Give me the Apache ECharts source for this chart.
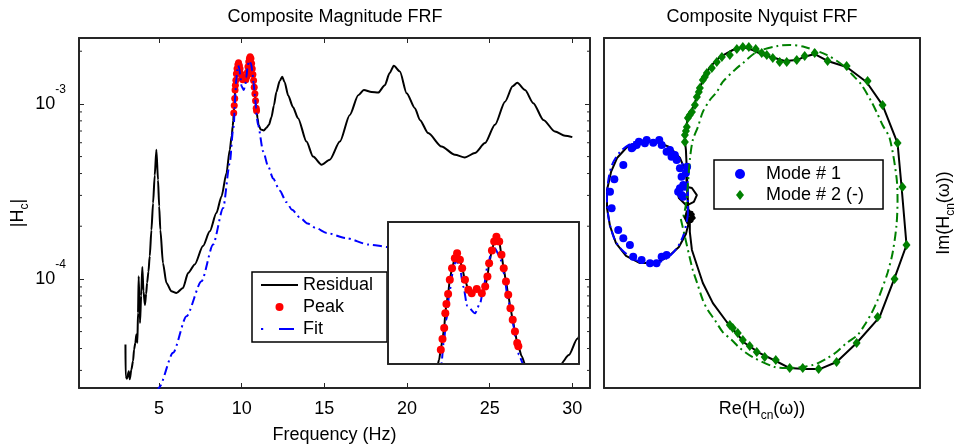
<!DOCTYPE html>
<html><head><meta charset="utf-8">
<script src="https://cdn.jsdelivr.net/npm/echarts@6/dist/echarts.min.js"></script>
<style>html,body{margin:0;padding:0;background:#fff}#c{width:961px;height:448px}</style>
</head><body><div id="c"></div>
<script>
const FONT = '"Liberation Sans", Arial, Helvetica, sans-serif';
const AX = '#262626';
const FS = 18;

// ---- Magnitude FRF data (Hz, |Hc|) ----
const resLowFreq = [2.97,2.98,3.06,3.17,3.23,3.33,3.43,3.49,3.57,3.63,3.69,3.73,3.77,3.85,3.92,3.99,4.06,4.15,4.22,4.28,4.36,4.44,4.54,4.64,4.74,4.84,4.94,5.01,5.08,5.24,5.45,5.75,6.05,6.45,6.76,7.16,7.66,8.07,8.47,8.78,9.08,9.28,9.40,9.46,9.49];
const resLowMag = [4.22e-5,2.78e-5,2.69e-5,2.97e-5,2.67e-5,3.04e-5,3.39e-5,3.95e-5,4.32e-5,4.81e-5,4.32e-5,6.4e-5,1.035e-4,5.6e-5,8.0e-5,1.17e-4,8.5e-5,7.1e-5,8.2e-5,9.5e-5,1.1e-4,1.35e-4,1.9e-4,2.71e-4,3.9e-4,5.47e-4,3.68e-4,2.6e-4,1.91e-4,1.23e-4,9.48e-5,8.5e-5,8.3e-5,8.88e-5,1.08e-4,1.21e-4,1.54e-4,1.87e-4,2.38e-4,2.96e-4,4.02e-4,5.47e-4,6.6e-4,7.5e-4,8.0e-4];
const peakFreq = [9.52,9.55,9.58,9.60,9.62,9.65,9.68,9.72,9.77,9.81,9.86,9.90,9.95,10.01,10.07,10.16,10.25,10.31,10.35,10.38,10.43,10.47,10.51,10.56,10.60,10.64,10.68,10.72,10.76,10.80,10.84,10.88,10.90];
const peakMag = [8.86e-4,9.78e-4,1.072e-3,1.2e-3,1.28e-3,1.365e-3,1.488e-3,1.588e-3,1.674e-3,1.717e-3,1.66e-3,1.588e-3,1.488e-3,1.402e-3,1.373e-3,1.408e-3,1.373e-3,1.43e-3,1.516e-3,1.63e-3,1.74e-3,1.817e-3,1.86e-3,1.817e-3,1.703e-3,1.588e-3,1.473e-3,1.359e-3,1.244e-3,1.144e-3,1.043e-3,9.43e-4,9.15e-4];
const resHighFreq = [10.96,11.02,11.15,11.34,11.5,11.65,11.8,11.95,12.1,12.3,12.45,12.6,12.81,13.1,13.41,13.92,14.32,14.83,15.33,15.94,16.54,17.05,17.39,17.86,18.26,18.66,18.95,19.2,19.57,19.98,20.48,20.78,21.28,22.09,22.9,23.5,24.11,24.72,25.32,25.93,26.39,26.67,27.14,27.64,28.25,28.95,29.56,30.0];
const resHighMag = [8.3e-4,7.6e-4,7.15e-4,7.05e-4,7.3e-4,7.6e-4,8.4e-4,9.8e-4,1.17e-3,1.35e-3,1.43e-3,1.33e-3,1.12e-3,9.6e-4,8.29e-4,6.09e-4,5.0e-4,4.49e-4,4.8e-4,6.09e-4,8.65e-4,1.12e-3,1.2e-3,1.17e-3,1.16e-3,1.28e-3,1.5e-3,1.65e-3,1.53e-3,1.15e-3,9.45e-4,8.1e-4,6.81e-4,5.71e-4,5.12e-4,4.94e-4,5.24e-4,5.97e-4,7.59e-4,1.03e-3,1.26e-3,1.32e-3,1.2e-3,1.01e-3,8.1e-4,6.95e-4,6.57e-4,6.46e-4];
const fitFreq = [4.9,5.0,5.85,6.66,7.57,8.27,8.88,9.28,9.48,9.53,9.57,9.62,9.68,9.74,9.79,9.86,9.92,9.99,10.13,10.22,10.28,10.35,10.43,10.48,10.57,10.64,10.72,10.80,10.87,10.91,10.99,11.3,11.6,11.9,12.3,12.7,13.05,13.5,14.0,14.5,15.15,16.3,17.7,18.9,20,22,25,30];
const fitMag = [2.25e-5,2.4e-5,3.78e-5,6.12e-5,9.69e-5,1.57e-4,2.54e-4,4.59e-4,7.11e-4,7.63e-4,9.43e-4,1.144e-3,1.402e-3,1.574e-3,1.66e-3,1.588e-3,1.43e-3,1.264e-3,1.2e-3,1.287e-3,1.416e-3,1.602e-3,1.746e-3,1.76e-3,1.688e-3,1.545e-3,1.316e-3,1.115e-3,9.43e-4,8.43e-4,7.59e-4,5.35e-4,4.4e-4,3.75e-4,3.2e-4,2.75e-4,2.48e-4,2.25e-4,2.07e-4,1.95e-4,1.83e-4,1.71e-4,1.57e-4,1.52e-4,1.47e-4,1.4e-4,1.34e-4,1.28e-4];
const xTickLabels = [5,10,15,20,25,30];
const yDecades = [-5,-4,-3];

// ---- Nyquist data (Re, Im, x1e-3) ----
const measRe = [0.003,0.023,0.010,-0.023,0.030,0.017,-0.023,-0.003,0.037,-0.010,-0.037,0.000,0.027,0.020,-0.017,-0.030,-0.013,0.013,0.000,0.020,0.027,0.013,-0.013,-0.020,0.000,0.023,-0.023,-0.070,-0.083,-0.043,0.017,0.050,0.030,-0.010,-0.017,-0.023,-0.063,-0.130,-0.217,-0.317,-0.410,-0.483,-0.523,-0.550,-0.550,-0.530,-0.490,-0.423,-0.330,-0.230,-0.143,-0.070,-0.023,-0.003,-0.010,-0.017,-0.023,-0.030,-0.023,-0.010,0.017,0.037,0.057,0.090,0.137,0.203,0.290,0.357,0.423,0.490,0.570,0.637,0.717,0.763,0.837,0.923,1.050,1.183,1.290,1.390,1.417,1.450,1.370,1.270,1.117,0.983,0.870,0.770,0.670,0.577,0.470,0.370,0.250,0.157,0.090,0.050,0.017,0.003,0.003];
const measIm = [-0.013,-0.027,0.013,0.020,0.007,-0.047,-0.040,0.033,-0.020,-0.060,-0.007,-0.040,-0.013,0.020,0.027,-0.020,-0.053,-0.033,-0.020,-0.030,-0.010,0.010,0.000,-0.027,-0.047,-0.040,0.067,0.113,0.167,0.193,0.180,0.133,0.087,0.067,0.200,0.287,0.380,0.453,0.487,0.493,0.460,0.380,0.287,0.167,0.047,-0.073,-0.187,-0.273,-0.320,-0.320,-0.280,-0.213,-0.127,-0.047,0.100,0.300,0.433,0.500,0.580,0.647,0.700,0.747,0.820,0.900,0.987,1.053,1.100,1.120,1.100,1.067,1.047,1.027,1.033,1.053,1.073,1.027,0.987,0.887,0.733,0.480,0.187,-0.200,-0.420,-0.680,-0.853,-0.980,-1.027,-1.027,-1.020,-0.973,-0.920,-0.853,-0.713,-0.587,-0.453,-0.333,-0.233,-0.113,-0.020];
const mode1Re = [-0.530,-0.519,-0.501,-0.475,-0.441,-0.441,-0.397,-0.385,-0.375,-0.352,-0.319,-0.297,-0.263,-0.241,-0.219,-0.201,-0.185,-0.185,-0.152,-0.152,-0.119,-0.085,-0.063,-0.052,-0.041,-0.063,-0.075,-0.052,-0.030,-0.015,-0.023,-0.041,-0.337,-0.285,-0.377,-0.130,-0.097];
const mode1Im = [0.155,0.045,0.238,-0.100,0.333,-0.155,-0.200,0.445,-0.278,0.467,-0.300,0.478,-0.322,0.482,-0.322,0.500,-0.278,0.467,-0.267,0.422,0.389,0.367,0.311,0.255,0.200,0.178,0.155,0.133,0.189,0.322,0.280,0.122,0.489,0.500,0.453,0.433,0.400];
const fit1Re = [-0.010,-0.010,-0.023,-0.077,-0.170,-0.277,-0.383,-0.463,-0.517,-0.543,-0.550,-0.537,-0.503,-0.450,-0.357,-0.250,-0.157,-0.083,-0.037,-0.010];
const fit1Im = [0.000,0.167,0.287,0.387,0.460,0.500,0.480,0.420,0.333,0.220,0.100,-0.033,-0.153,-0.233,-0.300,-0.327,-0.293,-0.220,-0.127,0.000];
const mode2Re = [-0.030,-0.030,-0.017,-0.010,0.017,0.037,0.050,0.070,0.090,0.117,0.150,0.183,0.217,0.270,0.317,0.357,0.397,0.443,0.483,0.517,0.557,0.603,0.650,0.717,0.770,0.837,0.923,1.050,1.190,1.290,1.390,1.423,1.450,1.370,1.257,1.117,0.983,0.863,0.757,0.670,0.577,0.503,0.450,0.403,0.357,0.323,0.290,0.270,-0.023,0.003,0.063,0.103];
const mode2Im = [0.487,0.533,0.587,0.647,0.687,0.733,0.787,0.847,0.900,0.947,0.980,1.020,1.053,1.067,1.107,1.120,1.120,1.107,1.080,1.067,1.047,1.020,1.020,1.033,1.060,1.080,1.027,0.993,0.893,0.733,0.480,0.187,-0.200,-0.427,-0.680,-0.853,-0.980,-1.027,-1.020,-1.020,-0.967,-0.947,-0.913,-0.873,-0.833,-0.787,-0.753,-0.733,0.560,0.667,0.820,0.920];
const fit2Re = [-0.057,-0.037,-0.017,0.003,0.023,0.050,0.090,0.123,0.170,0.223,0.283,0.337,0.423,0.570,0.650,0.823,0.923,0.983,1.050,1.123,1.170,1.217,1.257,1.283,1.323,1.357,1.383,1.390,1.383,1.337,1.290,1.250,1.217,1.150,1.090,1.023,0.917,0.770,0.670,0.590,0.450,0.357,0.303,0.223,0.183,0.137,0.090,0.057,0.023,0.003,-0.010,-0.023,-0.043];
const fit2Im = [-0.027,-0.113,-0.200,-0.287,-0.367,-0.447,-0.567,-0.633,-0.700,-0.780,-0.833,-0.887,-0.947,-1.013,-1.020,-1.000,-0.953,-0.913,-0.853,-0.800,-0.733,-0.653,-0.567,-0.500,-0.387,-0.253,-0.067,0.100,0.253,0.513,0.600,0.687,0.753,0.867,0.933,1.000,1.067,1.120,1.133,1.127,1.087,1.013,0.967,0.887,0.820,0.767,0.687,0.587,0.500,0.367,0.200,0.067,-0.020];

const zip = (a, b) => a.map((v, i) => [v, b[i]]);
const residual = zip(resLowFreq.concat(peakFreq, resHighFreq), resLowMag.concat(peakMag, resHighMag));
const peak = zip(peakFreq, peakMag);
const fit = zip(fitFreq, fitMag);

const minorTicks = [];
yDecades.forEach(d => { for (let k = 2; k <= 9; k++) minorTicks.push([1, k * Math.pow(10, d)]); });

const XMIN = 0.16, XMAX = 31.07, YMIN = 2.38e-5, YMAX = 2.38e-3;

const lineAx = {onZero: false, lineStyle: {color: AX, width: 2}};
const noSplit = {show: false};
const baseLabel = {color: '#000', fontSize: FS, fontFamily: FONT};

function logFmt(v) {
  const e = Math.log10(v);
  const r = Math.round(e);
  if (Math.abs(e - r) > 1e-6) return '';
  return '{b|10}{s|' + r + '}';
}
function xFmt(v) {
  return xTickLabels.some(t => Math.abs(t - v) < 1e-6) ? String(Math.round(v)) : '';
}
function minorRender(params, api) {
  const cs = params.coordSys;
  const y = api.coord([api.value(0), api.value(1)])[1];
  if (y < cs.y + 0.5 || y > cs.y + cs.height - 0.5) return null;
  const st = {stroke: AX, lineWidth: 1};
  return {type: 'group', children: [
    {type: 'line', shape: {x1: cs.x, y1: y, x2: cs.x + 3, y2: y}, style: st},
    {type: 'line', shape: {x1: cs.x + cs.width, y1: y, x2: cs.x + cs.width - 3, y2: y}, style: st}
  ]};
}

const subRich = {sub: {fontSize: 12, lineHeight: 12, verticalAlign: 'bottom', color: '#000', fontFamily: FONT}};
// legend icons (bounding box 37 x 8): solid line, and dot + dash
const ICON_LINE = 'path://M0,0L0.01,0ZM0,3.1h37v1.8h-37ZM37,8L36.99,8Z';
const ICON_DASHDOT = 'path://M0,0L0.01,0ZM0,3.1h2.2v1.8h-2.2ZM18,3.1h15v1.8h-15ZM37,8L36.99,8Z';
const ICON_DIAMOND = 'path://M4,0L8,5L4,10L0,5Z';

const option = {
  animation: false,
  textStyle: {fontFamily: FONT},
  graphic: [
    {type: 'text', x: 335, y: 17, style: {text: 'Composite Magnitude FRF', fill: '#000', fontSize: FS, fontFamily: FONT, align: 'center', verticalAlign: 'middle'}},
    {type: 'text', x: 762, y: 17, style: {text: 'Composite Nyquist FRF', fill: '#000', fontSize: FS, fontFamily: FONT, align: 'center', verticalAlign: 'middle'}}
  ],
  legend: [
    {data: [{name: 'Residual', icon: ICON_LINE}, {name: 'Peak', icon: 'circle'}, {name: 'Fit', icon: ICON_DASHDOT}],
     left: 252, top: 272, orient: 'vertical', selectedMode: false, symbolKeepAspect: true,
     itemWidth: 37, itemHeight: 8, itemGap: 4, padding: [4, 14, 4, 9],
     borderColor: '#000', borderWidth: 1.5, backgroundColor: '#fff', borderRadius: 0,
     textStyle: {fontSize: FS, color: '#000', fontFamily: FONT}},
    {data: [{name: 'Mode # 1', icon: 'circle'}, {name: 'Mode # 2 (-)', icon: ICON_DIAMOND}],
     left: 714, top: 160, orient: 'vertical', selectedMode: false, symbolKeepAspect: true,
     itemWidth: 42, itemHeight: 10, itemGap: 3, padding: [5, 19, 5, 21],
     borderColor: '#000', borderWidth: 1.5, backgroundColor: '#fff', borderRadius: 0,
     textStyle: {fontSize: FS, color: '#000', fontFamily: FONT}}
  ],
  grid: [
    {left: 79, top: 38, width: 511, height: 350, containLabel: false, outerBoundsMode: 'none'},
    {left: 604, top: 38, width: 316, height: 350, containLabel: false, outerBoundsMode: 'none'},
    {left: 388, top: 222, width: 191, height: 142, show: true, backgroundColor: '#fff', borderWidth: 0, z: 10, containLabel: false, outerBoundsMode: 'none'}
  ],
  xAxis: [
    {gridIndex: 0, type: 'value', min: XMIN, max: XMAX, position: 'bottom', axisLine: lineAx,
     axisTick: {inside: true, length: 5, lineStyle: {color: AX}}, splitLine: noSplit,
     axisLabel: Object.assign({margin: 12, formatter: xFmt}, baseLabel),
     name: 'Frequency (Hz)', nameLocation: 'middle', nameGap: 38, nameMoveOverlap: false,
     nameTextStyle: {fontSize: FS, color: '#000', fontFamily: FONT}},
    {gridIndex: 0, type: 'value', min: XMIN, max: XMAX, position: 'top', axisLine: lineAx,
     axisTick: {inside: true, length: 5, lineStyle: {color: AX}}, splitLine: noSplit, axisLabel: {show: false}},
    {gridIndex: 1, type: 'value', min: -0.57, max: 1.54, position: 'bottom', axisLine: lineAx,
     axisTick: {show: false}, splitLine: noSplit, axisLabel: {show: false},
     name: 'Re(H{sub|cn}(ω))', nameLocation: 'middle', nameGap: 8, nameMoveOverlap: false,
     nameTextStyle: {fontSize: FS, lineHeight: 26, color: '#000', fontFamily: FONT, rich: subRich}},
    {gridIndex: 1, type: 'value', min: -0.57, max: 1.54, position: 'top', axisLine: lineAx,
     axisTick: {show: false}, splitLine: noSplit, axisLabel: {show: false}},
    {gridIndex: 2, type: 'value', min: 8.58, max: 11.98, position: 'bottom', z: 13, axisLine: lineAx,
     axisTick: {show: false}, splitLine: noSplit, axisLabel: {show: false}},
    {gridIndex: 2, type: 'value', min: 8.58, max: 11.98, position: 'top', z: 13, axisLine: lineAx,
     axisTick: {show: false}, splitLine: noSplit, axisLabel: {show: false}}
  ],
  yAxis: [
    {gridIndex: 0, type: 'log', min: YMIN, max: YMAX, position: 'left', axisLine: Object.assign({show: true}, lineAx),
     axisTick: {inside: true, length: 5, lineStyle: {color: AX}}, splitLine: noSplit,
     axisLabel: {margin: 13, formatter: logFmt, color: '#000', fontFamily: FONT,
       rich: {b: {fontSize: FS, lineHeight: 40, color: '#000', fontFamily: FONT},
              s: {fontSize: 12, lineHeight: 12, verticalAlign: 'top', color: '#000', fontFamily: FONT}}},
     name: '|H{sub|c}|', nameLocation: 'middle', nameGap: 48, nameMoveOverlap: false,
     nameTextStyle: {fontSize: FS, lineHeight: 26, color: '#000', fontFamily: FONT, rich: subRich}},
    {gridIndex: 0, type: 'log', min: YMIN, max: YMAX, position: 'right', axisLine: Object.assign({show: true}, lineAx),
     axisTick: {inside: true, length: 5, lineStyle: {color: AX}}, splitLine: noSplit, axisLabel: {show: false}},
    {gridIndex: 1, type: 'value', min: -1.153, max: 1.18, position: 'left', axisLine: Object.assign({show: true}, lineAx),
     axisTick: {show: false}, splitLine: noSplit, axisLabel: {show: false}},
    {gridIndex: 1, type: 'value', min: -1.153, max: 1.18, position: 'right', axisLine: Object.assign({show: true}, lineAx),
     axisTick: {show: false}, splitLine: noSplit, axisLabel: {show: false},
     name: 'Im(H{sub|cn}(ω))', nameLocation: 'middle', nameGap: 11, nameRotate: 90, nameMoveOverlap: false,
     nameTextStyle: {fontSize: FS, lineHeight: 26, color: '#000', fontFamily: FONT, rich: subRich}},
    {gridIndex: 2, type: 'value', min: 7.63e-4, max: 1.986e-3, position: 'left', z: 13, axisLine: Object.assign({show: true}, lineAx),
     axisTick: {show: false}, splitLine: noSplit, axisLabel: {show: false}},
    {gridIndex: 2, type: 'value', min: 7.63e-4, max: 1.986e-3, position: 'right', z: 13, axisLine: Object.assign({show: true}, lineAx),
     axisTick: {show: false}, splitLine: noSplit, axisLabel: {show: false}}
  ],
  series: [
    {name: 'Residual', type: 'line', xAxisIndex: 0, yAxisIndex: 0, data: residual, symbol: 'none',
     smooth: 0.25, smoothMonotone: 'x', lineStyle: {color: '#000', width: 2}, itemStyle: {color: '#000'}, z: 2},
    {name: 'Peak', type: 'scatter', xAxisIndex: 0, yAxisIndex: 0, data: peak, symbol: 'circle', symbolSize: 7,
     itemStyle: {color: '#ff0000', opacity: 1}, z: 3},
    {name: 'Fit', type: 'line', xAxisIndex: 0, yAxisIndex: 0, data: fit, symbol: 'none',
     smooth: 0.25, smoothMonotone: 'x', lineStyle: {color: '#0000ff', width: 2, type: [9, 4, 2, 4]}, itemStyle: {color: '#0000ff'}, z: 4},
    {type: 'custom', xAxisIndex: 0, yAxisIndex: 0, data: minorTicks, renderItem: minorRender, silent: true, z: 1},
    // inset
    {name: 'Residual', type: 'line', xAxisIndex: 4, yAxisIndex: 4, data: residual, symbol: 'none',
     smooth: 0.25, smoothMonotone: 'x', lineStyle: {color: '#000', width: 2}, itemStyle: {color: '#000'}, z: 11},
    {name: 'Peak', type: 'scatter', xAxisIndex: 4, yAxisIndex: 4, data: peak, symbol: 'circle', symbolSize: 8,
     itemStyle: {color: '#ff0000', opacity: 1}, z: 12},
    {name: 'Fit', type: 'line', xAxisIndex: 4, yAxisIndex: 4, data: fit, symbol: 'none',
     smooth: 0.25, smoothMonotone: 'x', lineStyle: {color: '#0000ff', width: 2, type: [9, 4, 2, 4]}, itemStyle: {color: '#0000ff'}, z: 12},
    // Nyquist
    {name: 'Measured', type: 'line', xAxisIndex: 2, yAxisIndex: 2, data: zip(measRe, measIm), symbol: 'none',
     lineStyle: {color: '#000', width: 2}, itemStyle: {color: '#000'}, z: 2},
    {name: 'Fit 1', type: 'line', xAxisIndex: 2, yAxisIndex: 2, data: zip(fit1Re, fit1Im), symbol: 'none', smooth: 0.3,
     lineStyle: {color: '#0000ff', width: 2, type: [9, 4, 2, 4]}, itemStyle: {color: '#0000ff'}, z: 4},
    {name: 'Fit 2', type: 'line', xAxisIndex: 2, yAxisIndex: 2, data: zip(fit2Re, fit2Im), symbol: 'none', smooth: 0.3,
     lineStyle: {color: '#008000', width: 2, type: [9, 4, 2, 4]}, itemStyle: {color: '#008000'}, z: 4},
    {name: 'Mode # 1', type: 'scatter', xAxisIndex: 2, yAxisIndex: 2, data: zip(mode1Re, mode1Im), symbol: 'circle', symbolSize: 8,
     itemStyle: {color: '#0000ff', opacity: 1}, z: 3},
    {name: 'Mode # 2 (-)', type: 'scatter', xAxisIndex: 2, yAxisIndex: 2, data: zip(mode2Re, mode2Im), symbol: 'diamond', symbolSize: [8, 10],
     itemStyle: {color: '#008000', opacity: 1}, z: 3}
  ]
};

const chart = echarts.init(document.getElementById('c'), null, {renderer: 'canvas'});
chart.setOption(option);
</script></body></html>
